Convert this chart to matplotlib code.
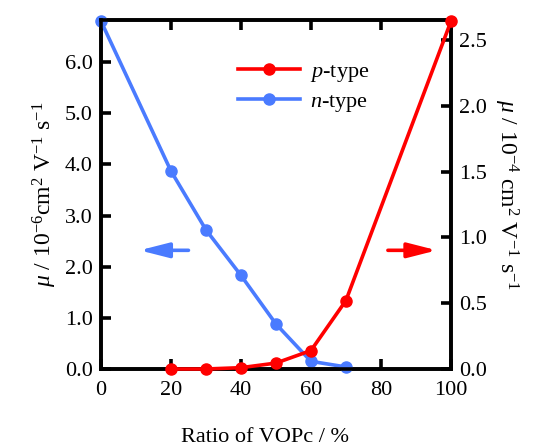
import numpy as np
import matplotlib
matplotlib.use('Agg')
import matplotlib as mpl
import matplotlib.pyplot as plt

ratio_n = [0, 20, 30, 40, 50, 60, 70]
mu_n = [6.80, 3.87, 2.72, 1.83, 0.88, 0.15, 0.04]   # 10^-6 cm2/Vs
ratio_p = [20, 30, 40, 50, 60, 70, 100]
mu_p = [0.0, 0.0, 0.01, 0.045, 0.14, 0.52, 2.64]   # 10^-4 cm2/Vs

red = '#ff0000'
blue = '#4a7bff'

mpl.rcParams.update({'font.family': 'Liberation Serif',
                     'mathtext.fontset': 'custom',
                     'mathtext.rm': 'Liberation Serif',
                     'mathtext.it': 'Liberation Serif:italic',
                     'font.size': 16})

fig = plt.figure(figsize=(5.4, 4.47), dpi=100)
ax1 = fig.add_axes([0.187, 0.1745, 0.648, 0.7805])
ax2 = ax1.twinx()

ax1.plot(ratio_n, mu_n, '-o', color=blue, lw=2.6, ms=8, clip_on=False, zorder=5)
ax2.plot(ratio_p, mu_p, '-o', color=red, lw=2.6, ms=8, clip_on=False, zorder=5)

ax1.set_xlim(0, 100)
ax1.set_ylim(0, 6.82)
ax2.set_ylim(0, 2.65)
ax1.set_xticks([0, 20, 40, 60, 80, 100])
ax1.set_yticks(np.arange(0, 6.5, 1.0))
ax1.set_yticklabels(['%.1f' % v for v in np.arange(0, 6.5, 1.0)])
ax2.set_yticks(np.arange(0, 2.6, 0.5))
ax2.set_yticklabels(['%.1f' % v for v in np.arange(0, 2.6, 0.5)])

for ax in (ax1, ax2):
    for s in ax.spines.values():
        s.set_linewidth(2.6)
ax1.tick_params(axis='both', direction='in', length=7, width=2.6, labelsize=16, top=True, pad=6)
ax1.tick_params(axis='x', pad=9)
ax2.tick_params(axis='y', direction='in', length=7, width=2.6, labelsize=16, pad=6)

ax1.set_xlabel('Ratio of VOPc / %', fontsize=16)
ax1.xaxis.set_label_coords(0.47, -0.168)
ax1.set_ylabel(r'$\mu$ / 10$^{-6}$cm$^{2}$ V$^{-1}$ s$^{-1}$', fontsize=17, labelpad=4)
ax2.set_ylabel(r'$\mu$ / 10$^{-4}$ cm$^{2}$ V$^{-1}$ s$^{-1}$', fontsize=17, rotation=-90, labelpad=24)

# legend
h1, = ax1.plot([], [], '-o', color=red, lw=2.6, ms=8)
h2, = ax1.plot([], [], '-o', color=blue, lw=2.6, ms=8)
ax1.legend([h1, h2], [r'$p$-type', r'$n$-type'], loc='upper left',
           bbox_to_anchor=(0.335, 0.94), frameon=False, fontsize=16,
           handlelength=2.8, labelspacing=0.35, handletextpad=0.45)

# arrows
arrow_style = '-|>,head_length=1.1,head_width=0.28'
ax1.annotate('', xy=(11, 2.32), xytext=(25, 2.32),
             xycoords='data', arrowprops=dict(arrowstyle=arrow_style,
                                              color=blue, lw=2.6,
                                              mutation_scale=16, shrinkA=0, shrinkB=0))
ax1.annotate('', xy=(96, 2.32), xytext=(82, 2.32),
             xycoords='data', arrowprops=dict(arrowstyle=arrow_style,
                                              color=red, lw=2.6,
                                              mutation_scale=16, shrinkA=0, shrinkB=0))

plt.savefig('out.png', dpi=100)
plt.close()
